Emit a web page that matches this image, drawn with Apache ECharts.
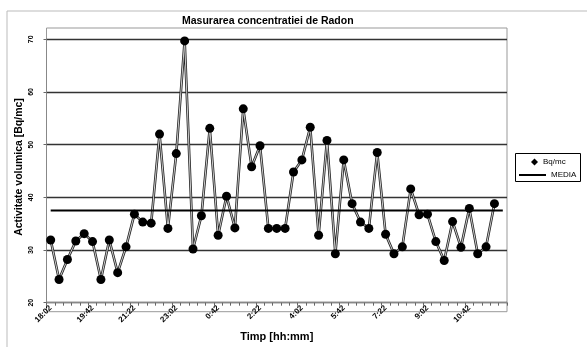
<!DOCTYPE html>
<html>
<head>
<meta charset="utf-8">
<script src="https://cdn.jsdelivr.net/npm/echarts@6/dist/echarts.min.js"></script>
<style>
  html, body { margin: 0; padding: 0; background: #fff; }
  #chart { width: 587px; height: 347px; }
</style>
</head>
<body>
<div id="chart"></div>
<script>
// Time categories (20-minute steps)
const categories = [
  '18:02','18:22','18:42','19:02','19:22','19:42','20:02','20:22','20:42','21:02',
  '21:22','21:42','22:02','22:22','22:42','23:02','23:22','23:42','0:02','0:22',
  '0:42','1:02','1:22','1:42','2:02','2:22','2:42','3:02','3:22','3:42',
  '4:02','4:22','4:42','5:02','5:22','5:42','6:02','6:22','6:42','7:02',
  '7:22','7:42','8:02','8:22','8:42','9:02','9:22','9:42','10:02','10:22',
  '10:42','11:02','11:22','11:42','12:02'
];

// Measured radon activity [Bq/mc]
const bq = [
  31.9, 24.4, 28.2, 31.7, 33.1, 31.6, 24.4, 31.9, 25.7, 30.6,
  36.8, 35.3, 35.1, 52.0, 34.1, 48.3, 69.7, 30.2, 36.5, 53.1,
  32.8, 40.2, 34.2, 56.8, 45.8, 49.8, 34.1, 34.1, 34.1, 44.8,
  47.1, 53.3, 32.8, 50.8, 29.3, 47.1, 38.8, 35.3, 34.1, 48.5,
  33.0, 29.3, 30.6, 41.6, 36.7, 36.8, 31.6, 28.0, 35.4, 30.5,
  37.9, 29.3, 30.6, 38.8
];

// Mean value (MEDIA)
const media = 37.5;

const FONT = "'Liberation Sans', Arial, sans-serif";

const chart = echarts.init(document.getElementById('chart'), null, { renderer: 'canvas' });

chart.setOption({
  animation: false,
  backgroundColor: '#fff',
  title: {
    text: 'Masurarea concentratiei de Radon',
    left: 182,
    top: 16,
    padding: 0,
    textStyle: { fontFamily: FONT, fontSize: 10.5, fontWeight: 'bold', color: '#000' }
  },
  legend: [
    {
      left: 531, top: 158, padding: 0,
      itemWidth: 7, itemHeight: 7, itemGap: 0,
      textStyle: { fontFamily: FONT, fontSize: 8, color: '#000' },
      data: [{ name: 'Bq/mc', icon: 'diamond' }]
    },
    {
      left: 519, top: 171, padding: 0,
      itemWidth: 27, itemHeight: 2, itemGap: 0,
      textStyle: { fontFamily: FONT, fontSize: 8, color: '#000' },
      data: [{ name: 'MEDIA', icon: 'rect' }]
    }
  ],
  grid: { left: 46.5, right: 80, top: 39.3, bottom: 35.3 },
  xAxis: {
    type: 'category',
    data: categories,
    boundaryGap: true,
    name: 'Timp [hh:mm]',
    nameLocation: 'middle',
    nameGap: 24,
    nameTextStyle: { fontFamily: FONT, fontSize: 11, fontWeight: 'bold', color: '#000' },
    axisLine: { lineStyle: { color: '#888', width: 1 } },
    axisTick: { show: true, interval: 0, length: 3, lineStyle: { color: '#666' } },
    axisLabel: {
      interval: 4, rotate: 45, margin: 4,
      fontFamily: FONT, fontSize: 8, fontWeight: 'bold', color: '#000'
    },
    splitLine: { show: false }
  },
  yAxis: {
    type: 'value',
    min: 20, max: 70, interval: 10,
    axisLine: { show: true, lineStyle: { color: '#888', width: 1 } },
    axisTick: { show: true, length: 3, lineStyle: { color: '#666' } },
    axisLabel: {
      rotate: 90, margin: 12,
      fontFamily: FONT, fontSize: 7, fontWeight: 'bold', color: '#000'
    },
    splitLine: { show: true, lineStyle: { color: '#333', width: 1.3 } }
  },
  graphic: [
    { type: 'rect', shape: { x: 7, y: 11, width: 620, height: 400 },
      style: { fill: null, stroke: '#bbb', lineWidth: 1 }, silent: true, z: -1 },
    { type: 'rect', shape: { x: 46.5, y: 28, width: 460.5, height: 283.7 },
      style: { fill: null, stroke: '#999', lineWidth: 1 }, silent: true, z: -1 },
    { type: 'rect', shape: { x: 515.5, y: 153.5, width: 65, height: 28 },
      style: { fill: null, stroke: '#000', lineWidth: 1 }, silent: true },
    { type: 'text', x: 19, y: 167, rotation: Math.PI / 2,
      style: { text: 'Activitate volumica [Bq/mc]', fontFamily: FONT, fontSize: 10.5,
               fontWeight: 'bold', fill: '#000', textAlign: 'center', textVerticalAlign: 'middle' } }
  ],
  series: [
    {
      name: 'outline',
      type: 'line',
      data: bq,
      showSymbol: false,
      silent: true,
      lineStyle: { color: '#222', width: 2.6 },
      z: 2
    },
    {
      name: 'Bq/mc',
      type: 'line',
      data: bq,
      symbol: 'circle',
      symbolSize: 9,
      showAllSymbol: true,
      itemStyle: { color: '#000' },
      lineStyle: { color: '#e0e0e0', width: 0.9 },
      z: 3
    },
    {
      name: 'MEDIA',
      type: 'line',
      data: [[categories[0], media], [categories[categories.length - 1], media]],
      showSymbol: false,
      symbol: 'none',
      itemStyle: { color: '#000' },
      lineStyle: { color: '#000', width: 2 },
      z: 4
    }
  ]
});
</script>
</body>
</html>
